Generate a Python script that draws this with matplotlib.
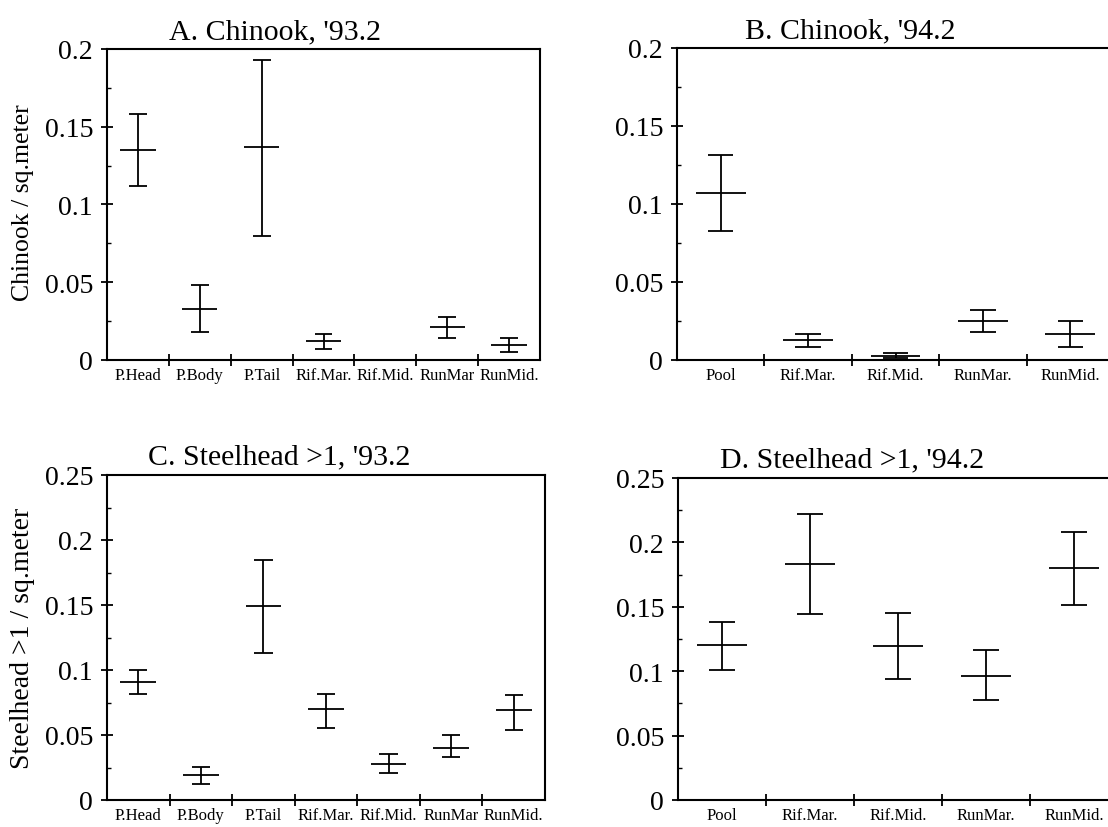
import matplotlib.pyplot as plt
import numpy as np
from matplotlib.ticker import MultipleLocator, FuncFormatter

plt.rcParams['font.family'] = ['Liberation Serif', 'DejaVu Serif']

W, H = 1108, 828

sites_93 = ["P.Head", "P.Body", "P.Tail", "Rif.Mar.", "Rif.Mid.", "RunMar", "RunMid."]
sites_94 = ["Pool", "Rif.Mar.", "Rif.Mid.", "RunMar.", "RunMid."]

# A. Chinook '93.2
chin93_mean = [0.135, 0.033, 0.137, 0.012, 0.0, 0.021, 0.0096]
chin93_low = [0.112, 0.018, 0.080, 0.0073, 0.0, 0.0143, 0.0053]
chin93_high = [0.158, 0.048, 0.193, 0.0165, 0.0, 0.0276, 0.0141]

# B. Chinook '94.2
chin94_mean = [0.107, 0.013, 0.0026, 0.0252, 0.0167]
chin94_low = [0.0824, 0.0081, 0.0015, 0.018, 0.0085]
chin94_high = [0.1316, 0.0167, 0.0045, 0.032, 0.025]

# C. Steelhead >1 '93.2
steel93_mean = [0.0904, 0.019, 0.1492, 0.070, 0.028, 0.0402, 0.069]
steel93_low = [0.0812, 0.0124, 0.113, 0.0556, 0.0209, 0.0331, 0.0542]
steel93_high = [0.100, 0.0251, 0.1847, 0.0817, 0.0352, 0.0497, 0.0807]

# D. Steelhead >1 '94.2
steel94_mean = [0.120, 0.183, 0.1193, 0.0966, 0.1798]
steel94_low = [0.1013, 0.1447, 0.0942, 0.0776, 0.1516]
steel94_high = [0.1384, 0.2218, 0.1455, 0.1167, 0.2079]

fig = plt.figure(figsize=(W / 100, H / 100), dpi=100)


def panel(box, sites, mean, low, high, ymax):
    l, t, r, b = box
    ax = fig.add_axes([l / W, 1 - b / H, (r - l) / W, (b - t) / H])
    n = len(sites)
    x = np.arange(n) + 0.5
    lw = 1.3
    ax.vlines(x, low, high, color='black', lw=lw)
    ax.hlines(low, x - 0.145, x + 0.145, color='black', lw=lw)
    ax.hlines(high, x - 0.145, x + 0.145, color='black', lw=lw)
    ax.hlines(mean, x - 0.285, x + 0.285, color='black', lw=lw)
    ax.set_xlim(0, n)
    ax.set_ylim(0, ymax)
    ax.set_xticks(np.arange(1, n))
    ax.set_xticklabels([])
    ax.set_xticks(x, labels=sites, minor=True)
    ax.tick_params(axis='x', which='major', direction='inout', length=9, width=1.3)
    ax.tick_params(axis='x', which='minor', length=0, labelsize=12, pad=5)
    ax.yaxis.set_major_locator(MultipleLocator(0.05))
    ax.yaxis.set_minor_locator(MultipleLocator(0.025))
    ax.yaxis.set_major_formatter(FuncFormatter(lambda v, _: f"{v:g}"))
    ax.tick_params(axis='y', which='major', direction='inout', length=8, width=1.3,
                   labelsize=20, pad=6)
    ax.tick_params(axis='y', which='minor', direction='in', length=3, width=1)
    for s in ax.spines.values():
        s.set_linewidth(1.5)
    return ax


panel((107, 50, 540, 361), sites_93, chin93_mean, chin93_low, chin93_high, 0.2)
panel((677, 49, 1114, 361), sites_94, chin94_mean, chin94_low, chin94_high, 0.2)
panel((107, 476, 545, 801), sites_93, steel93_mean, steel93_low, steel93_high, 0.25)
panel((678, 479, 1118, 801), sites_94, steel94_mean, steel94_low, steel94_high, 0.25)

fig.text(275 / W, 1 - 39 / H, "A. Chinook, '93.2", ha='center', va='baseline', fontsize=21.5)
fig.text(850 / W, 1 - 38 / H, "B. Chinook, '94.2", ha='center', va='baseline', fontsize=21.5)
fig.text(279 / W, 1 - 464 / H, "C. Steelhead >1, '93.2", ha='center', va='baseline', fontsize=21.5)
fig.text(852 / W, 1 - 467 / H, "D. Steelhead >1, '94.2", ha='center', va='baseline', fontsize=21.5)

fig.text(23 / W, 1 - 203 / H, "Chinook / sq.meter", rotation=90, ha='center', va='center',
         fontsize=18.5)
fig.text(23 / W, 1 - 638 / H, "Steelhead >1 / sq.meter", rotation=90, ha='center', va='center',
         fontsize=20)

fig.savefig("out.png", dpi=100)
